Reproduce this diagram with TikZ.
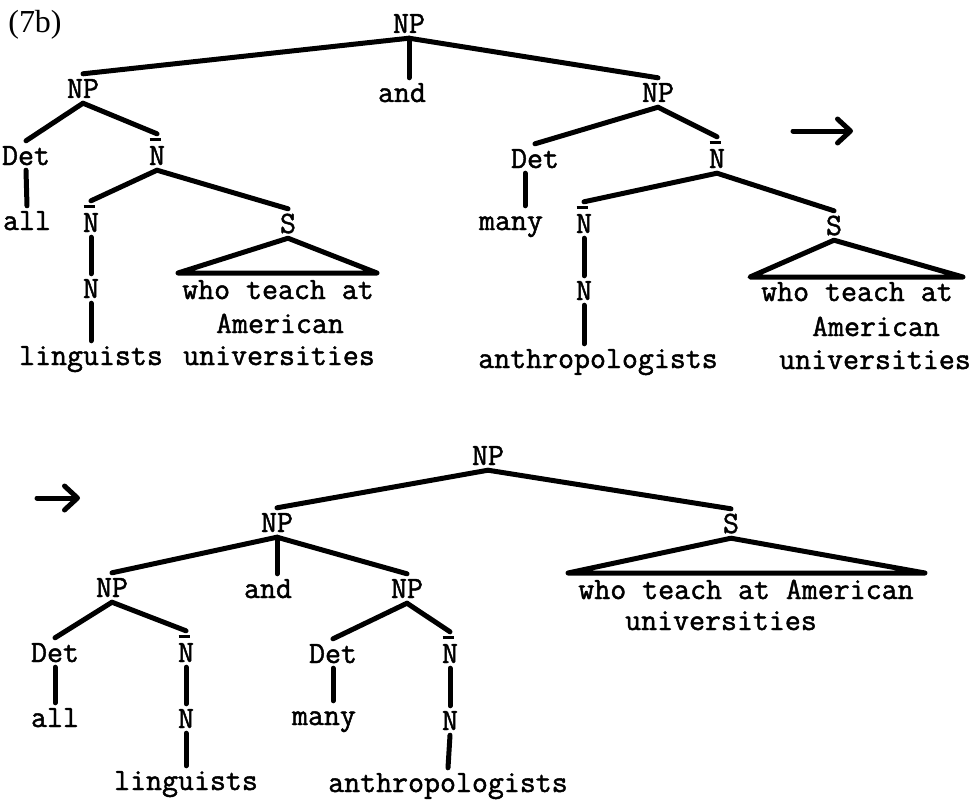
\documentclass[tikz,border=0pt]{standalone}
\usepackage{fontspec}
\setmainfont{Liberation Serif}
\newfontfamily\typer{Latin Modern Mono}[FakeBold=1.5]
\usetikzlibrary{arrows.meta}
% N with a bar over it
\newcommand\nbar{\makebox[0pt][l]{\hspace{0.02em}\rule[0.78em]{0.36em}{0.09em}}N}
\tikzset{
  lbl/.style={font=\typer\fontsize{31}{34}\selectfont, anchor=base,
    inner xsep=0pt, inner ysep=5pt, text height=19pt, text depth=0pt},
  barlbl/.style={lbl, text height=26pt},
  br/.style={line width=5pt, line cap=round, line join=round},
  tri/.style={br},
  rarrow/.style={line width=5pt, line cap=round,
    -{Straight Barb[length=13pt,width=24pt,line width=5pt,round]}},
}
\begin{document}
\begin{tikzpicture}[x=1pt,y=-1pt]
\useasboundingbox (0,0) rectangle (978,800);

\node[font=\fontsize{32}{34}\selectfont, anchor=base, inner sep=0pt] (lab) at (35,33) {(7b)};

% ---------- first tree ----------
\node[lbl] (np0) at (409,33) {NP};
\node[lbl] (and0) at (402,102) {and};
\node[lbl] (np1) at (83,98) {NP};
\node[lbl] (det1) at (26,165) {Det};
\node[lbl] (all1) at (27,230) {all};
\node[barlbl] (nb1) at (157,165) {\nbar};
\node[barlbl] (nb2) at (91,232) {\nbar};
\node[lbl] (n1) at (91,298) {N};
\node[lbl] (ling1) at (91,365) {linguists};
\node[lbl] (s1) at (288,233) {S};
\node[lbl] (w1a) at (278,299) {who teach at};
\node[lbl] (w1b) at (280,333) {American};
\node[lbl] (w1c) at (279,365) {universities};
\coordinate (t1l) at (178,273);
\coordinate (t1r) at (377,273);

\node[lbl] (np2) at (658,102) {NP};
\node[lbl] (det2) at (535,168) {Det};
\node[lbl] (many2) at (511,230) {many};
\node[barlbl] (nb3) at (717,168) {\nbar};
\node[barlbl] (nb4) at (584,233) {\nbar};
\node[lbl] (n2) at (584,300) {N};
\node[lbl] (anth2) at (598,368) {anthropologists};
\node[lbl] (s2) at (834,235) {S};
\node[lbl] (w2a) at (857,301) {who teach at};
\node[lbl] (w2b) at (876,336) {American};
\node[lbl] (w2c) at (875,369) {universities};
\coordinate (t2l) at (750,277);
\coordinate (t2r) at (963,277);

\draw[br] (np0.south) -- (np1.north);
\draw[br] (np0.south) -- (np0.south |- and0.north);
\draw[br] (np0.south) -- (np2.north);
\draw[br] (np1.south) -- (det1.north);
\draw[br] (np1.south) -- (nb1.north);
\draw[br] (det1.south) -- (all1.north);
\draw[br] (nb1.south) -- (nb2.north);
\draw[br] (nb1.south) -- (s1.north);
\draw[br] (nb2.south) -- (n1.north);
\draw[br] (n1.south) -- (ling1.north);
\draw[tri] (s1.south) -- (t1l) -- (t1r) -- cycle;
\draw[br] (np2.south) -- (det2.north);
\draw[br] (np2.south) -- (nb3.north);
\draw[br] ([xshift=-10pt]det2.south) -- ([xshift=-10pt]det2.south |- many2.north);
\draw[br] (nb3.south) -- (nb4.north);
\draw[br] (nb3.south) -- (s2.north);
\draw[br] (nb4.south) -- (n2.north);
\draw[br] (n2.south) -- (n2.south |- anth2.north);
\draw[tri] (s2.south) -- (t2l) -- (t2r) -- cycle;

% arrow between the two trees
\coordinate (a1s) at (793,131);
\coordinate (a1e) at (853,131);
\draw[rarrow] (a1s) -- (a1e);

% ---------- second tree ----------
\coordinate (a2s) at (37,498);
\coordinate (a2e) at (80,498);
\draw[rarrow] (a2s) -- (a2e);

\node[lbl] (np3) at (488,465) {NP};
\node[lbl] (np4) at (277,532) {NP};
\node[lbl] (and4) at (268,598) {and};
\node[lbl] (np5) at (112,597) {NP};
\node[lbl] (det5) at (55,662) {Det};
\node[lbl] (all5) at (55,727) {all};
\node[barlbl] (nb5) at (186,662) {\nbar};
\node[lbl] (n5) at (186,728) {N};
\node[lbl] (ling5) at (186,790) {linguists};
\node[lbl] (np6) at (407,598) {NP};
\node[lbl] (det6) at (333,663) {Det};
\node[lbl] (many6) at (324,725) {many};
\node[barlbl] (nb6) at (450,663) {\nbar};
\node[lbl] (n6) at (450,730) {N};
\node[lbl] (anth6) at (448,792) {anthropologists};
\node[lbl] (s7) at (731,533) {S};
\node[lbl] (w7a) at (746,599) {who teach at American};
\node[lbl] (w7b) at (721,630) {universities};
\coordinate (t7l) at (568,573);
\coordinate (t7r) at (925,573);

\draw[br] (np3.south) -- (np4.north);
\draw[br] (np3.south) -- (s7.north);
\draw[br] (np4.south) -- (np5.north);
\draw[br] (np4.south) -- (np4.south |- and4.north);
\draw[br] (np4.south) -- (np6.north);
\draw[br] (np5.south) -- (det5.north);
\draw[br] (np5.south) -- (nb5.north);
\draw[br] (det5.south) -- (all5.north);
\draw[br] (nb5.south) -- (n5.north);
\draw[br] (n5.south) -- (ling5.north);
\draw[br] (np6.south) -- (det6.north);
\draw[br] (np6.south) -- (nb6.north);
\draw[br] (det6.south) -- (det6.south |- many6.north);
\draw[br] (nb6.south) -- (n6.north);
\draw[br] (n6.south) -- (anth6.north);
\draw[tri] (s7.south) -- (t7l) -- (t7r) -- cycle;
\end{tikzpicture}
\end{document}
